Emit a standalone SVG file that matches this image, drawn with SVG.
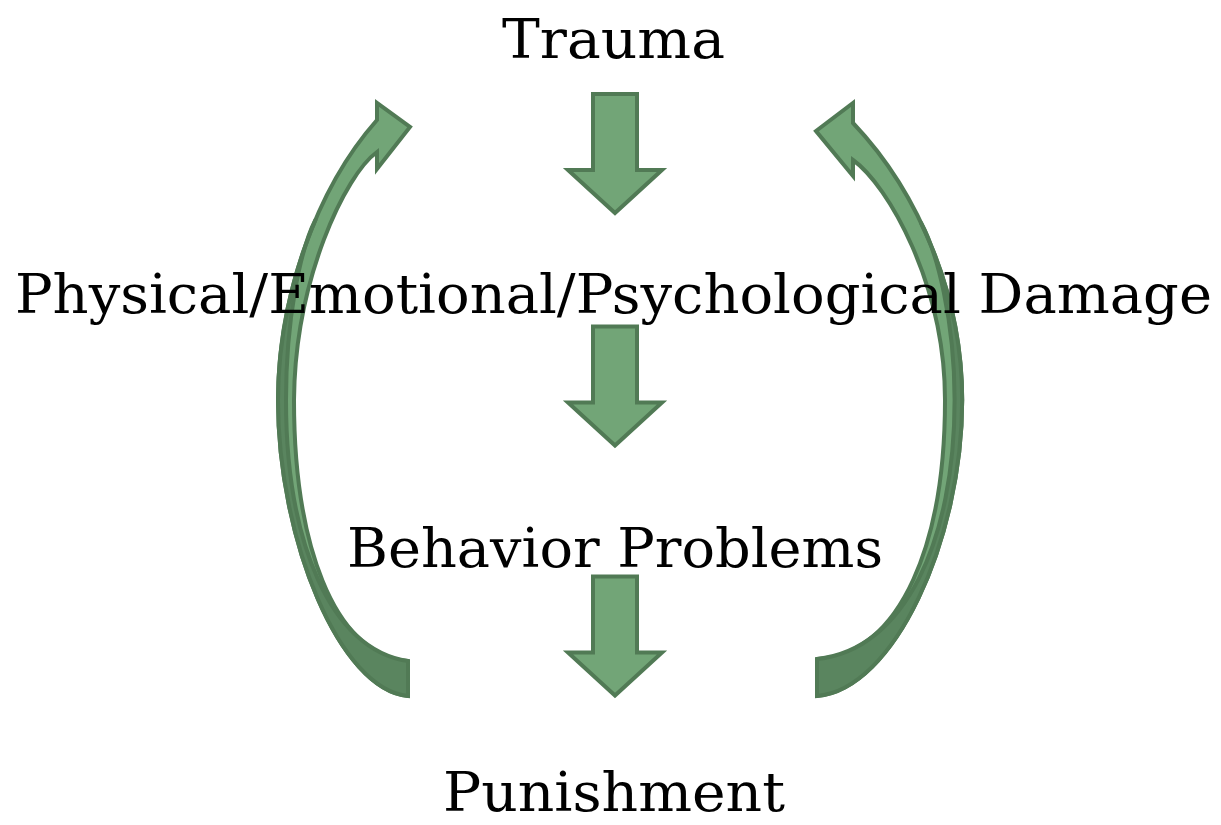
<svg xmlns="http://www.w3.org/2000/svg" xmlns:xlink="http://www.w3.org/1999/xlink" width="1221" height="825" viewBox="0 0 1221 825">
<style>
.lbl{font-family:"DejaVu Serif","Liberation Serif",serif;font-size:55px;fill:#000}
.light{fill:#72a577;stroke:#517a55;stroke-width:4;stroke-linejoin:miter}
.dark{fill:#5a855f;stroke:#517a55;stroke-width:4;stroke-linejoin:round}
</style>
<defs>
<path id="down" d="M593,94 L637,94 L637,170 L662,170 L615,213 L568,170 L593,170 Z"/>
</defs>
<rect width="1221" height="825" fill="#fff"/>
<g id="connectors">
<g id="arrow-trauma-damage"><use xlink:href="#down" class="light"/></g>
<g id="arrow-damage-behavior"><use xlink:href="#down" class="light" transform="translate(0,232.5)"/></g>
<g id="arrow-behavior-punishment"><use xlink:href="#down" class="light" transform="translate(0,482.5)"/></g>
<g id="loop-left">
<path class="light" d="M408,696 C340,690 278,540 278,400 C278,300 315,190 377,120 L377,103 L410,127 L377,169 L377,152 C345,175 295,280 294,400 C294,540 332,655 408,661 Z"/>
<path class="dark" d="M408,696 C340,690 278,540 278,400 C278,340 291.3,276.4 315.4,220 C300,250 286,320 286,400 C286,540 330,650 408,661 Z"/>
</g>
<g id="loop-right">
<path class="light" d="M817,696 C894,690 962.2,540 962.2,400 C962.2,300 921.5,195 853,123 L853,103 L816,131 L853,176 L853,160 C888,185 945,285 945,400 C945,540 903,653 817,659 Z"/>
<path class="dark" d="M817,696 C894,690 962.2,540 962.2,400 C962.2,340 947.55,278.2 921,222.8 C937,252 954.6,320 954.6,400 C954.6,540 905,650 817,659 Z"/>
</g>
</g>
<g id="node-trauma"><text class="lbl" x="502" y="58" textLength="223" lengthAdjust="spacingAndGlyphs">Trauma</text></g>
<g id="node-damage"><text class="lbl" x="15" y="313" textLength="1197" lengthAdjust="spacingAndGlyphs">Physical/Emotional/Psychological Damage</text></g>
<g id="node-behavior"><text class="lbl" x="347" y="567" textLength="536" lengthAdjust="spacingAndGlyphs">Behavior Problems</text></g>
<g id="node-punishment"><text class="lbl" x="443" y="811" textLength="342" lengthAdjust="spacingAndGlyphs">Punishment</text></g>
</svg>
